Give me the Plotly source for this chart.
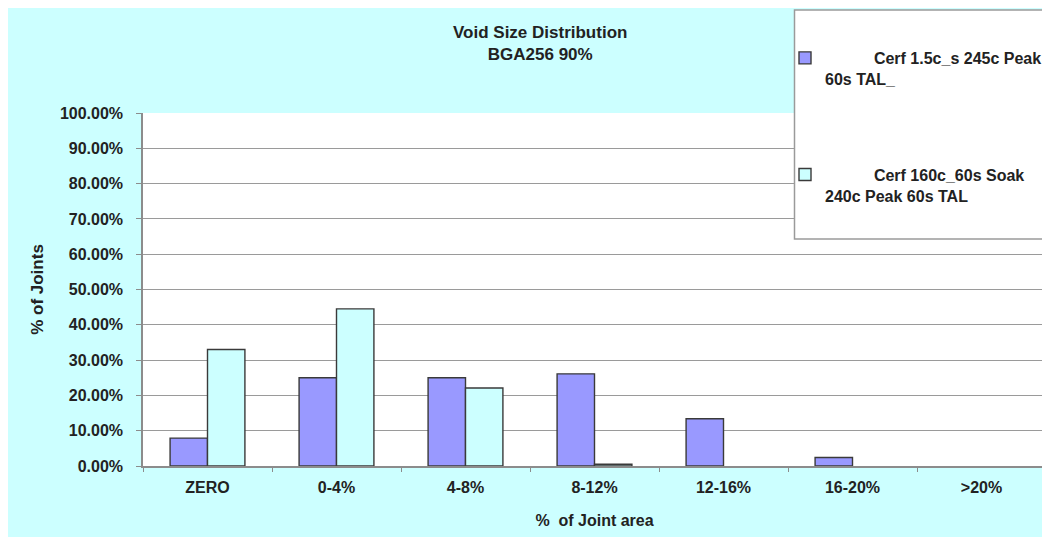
import plotly.graph_objects as go

categories = ["ZERO", "0-4%", "4-8%", "8-12%", "12-16%", "16-20%", ">20%"]
series1_name = "&nbsp;" * 11 + "Cerf 1.5c_s 245c Peak<br>60s TAL_"
series2_name = "&nbsp;" * 11 + "Cerf 160c_60s Soak<br>240c Peak 60s TAL"
series1 = [0.079, 0.25, 0.25, 0.261, 0.134, 0.024, 0.0]
series2 = [0.33, 0.445, 0.221, 0.005, 0.0, 0.0, 0.0]
y_ticks = [0.0, 0.1, 0.2, 0.3, 0.4, 0.5, 0.6, 0.7, 0.8, 0.9, 1.0]

# page body has an 8px margin; screen coords = figure coords + 8
OFF = 8
W, H = 1042, 529
L, R, T = 143 - OFF, 4, 113 - OFF
B = H - (466 - OFF)
PW, PH = W - L - R, H - T - B

def px(x):
    return (x - OFF - L) / PW

def py(y):
    return (H - B - (y - OFF)) / PH

FONT = "Liberation Sans, Arial, sans-serif"
TXT = "#222222"
CYAN = "#CCFFFF"

def visible(vals):
    # zero-height bars are not drawn in the reference
    return [v if v > 0 else None for v in vals]

fig = go.Figure()
fig.add_trace(go.Bar(
    x=categories, y=visible(series1), name=series1_name, legendgroup="a",
    marker=dict(color="#9999FF", line=dict(color="#3a3a3a", width=1.4)),
))
fig.add_trace(go.Bar(
    x=categories, y=visible(series2), name=series2_name, legendgroup="b",
    marker=dict(color=CYAN, line=dict(color="#3a3a3a", width=1.4)),
))

fig.update_layout(
    width=W, height=H,
    margin=dict(l=L, r=R, t=T, b=B, autoexpand=False),
    paper_bgcolor=CYAN,
    plot_bgcolor="white",
    barmode="group",
    bargap=0.42,
    bargroupgap=0,
    font=dict(family=FONT, size=16, color=TXT),
    showlegend=True,
    legend=dict(
        x=px(785), y=py(41), xanchor="left", yanchor="top",
        bgcolor="rgba(0,0,0,0)", borderwidth=0,
        font=dict(family=FONT, size=16, color=TXT, weight="bold"),
        valign="top", tracegroupgap=72, traceorder="grouped",
        itemwidth=30,
    ),
    xaxis=dict(
        showgrid=False, showline=True, linecolor="#8c8c8c", linewidth=1.5,
        ticks="outside", ticklen=4, tickcolor="#8c8c8c", tickson="boundaries",
        ticklabelstandoff=6,
        tickfont=dict(family=FONT, size=16, color=TXT, weight="bold"),
        title=dict(text="%  of Joint area", standoff=20,
                   font=dict(family=FONT, size=16, color=TXT, weight="bold")),
        fixedrange=True,
    ),
    yaxis=dict(
        range=[0, 1], tickvals=y_ticks, tickformat=".2%",
        showgrid=True, gridcolor="#9a9a9a", gridwidth=1.3,
        showline=True, linecolor="#8c8c8c", linewidth=1.5,
        ticks="outside", ticklen=5, tickcolor="#8c8c8c",
        ticklabelstandoff=10,
        tickfont=dict(family=FONT, size=16, color=TXT, weight="bold"),
        title=dict(text="% of Joints", standoff=12,
                   font=dict(family=FONT, size=17, color=TXT, weight="bold")),
        zeroline=False,
    ),
    shapes=[
        # legend box
        dict(type="rect", xref="paper", yref="paper", x0=px(794.5), x1=px(1070),
             y0=py(239), y1=py(10), fillcolor="white",
             line=dict(color="#9a9a9a", width=1.5), layer="above"),
    ],
    annotations=[
        dict(text="Void Size Distribution<br>BGA256 90%", xref="paper", yref="paper",
             x=px(540), y=py(43), xanchor="center", yanchor="middle", showarrow=False,
             font=dict(family=FONT, size=17, color=TXT, weight="bold")),
    ],
)

fig.write_html("out.html")
